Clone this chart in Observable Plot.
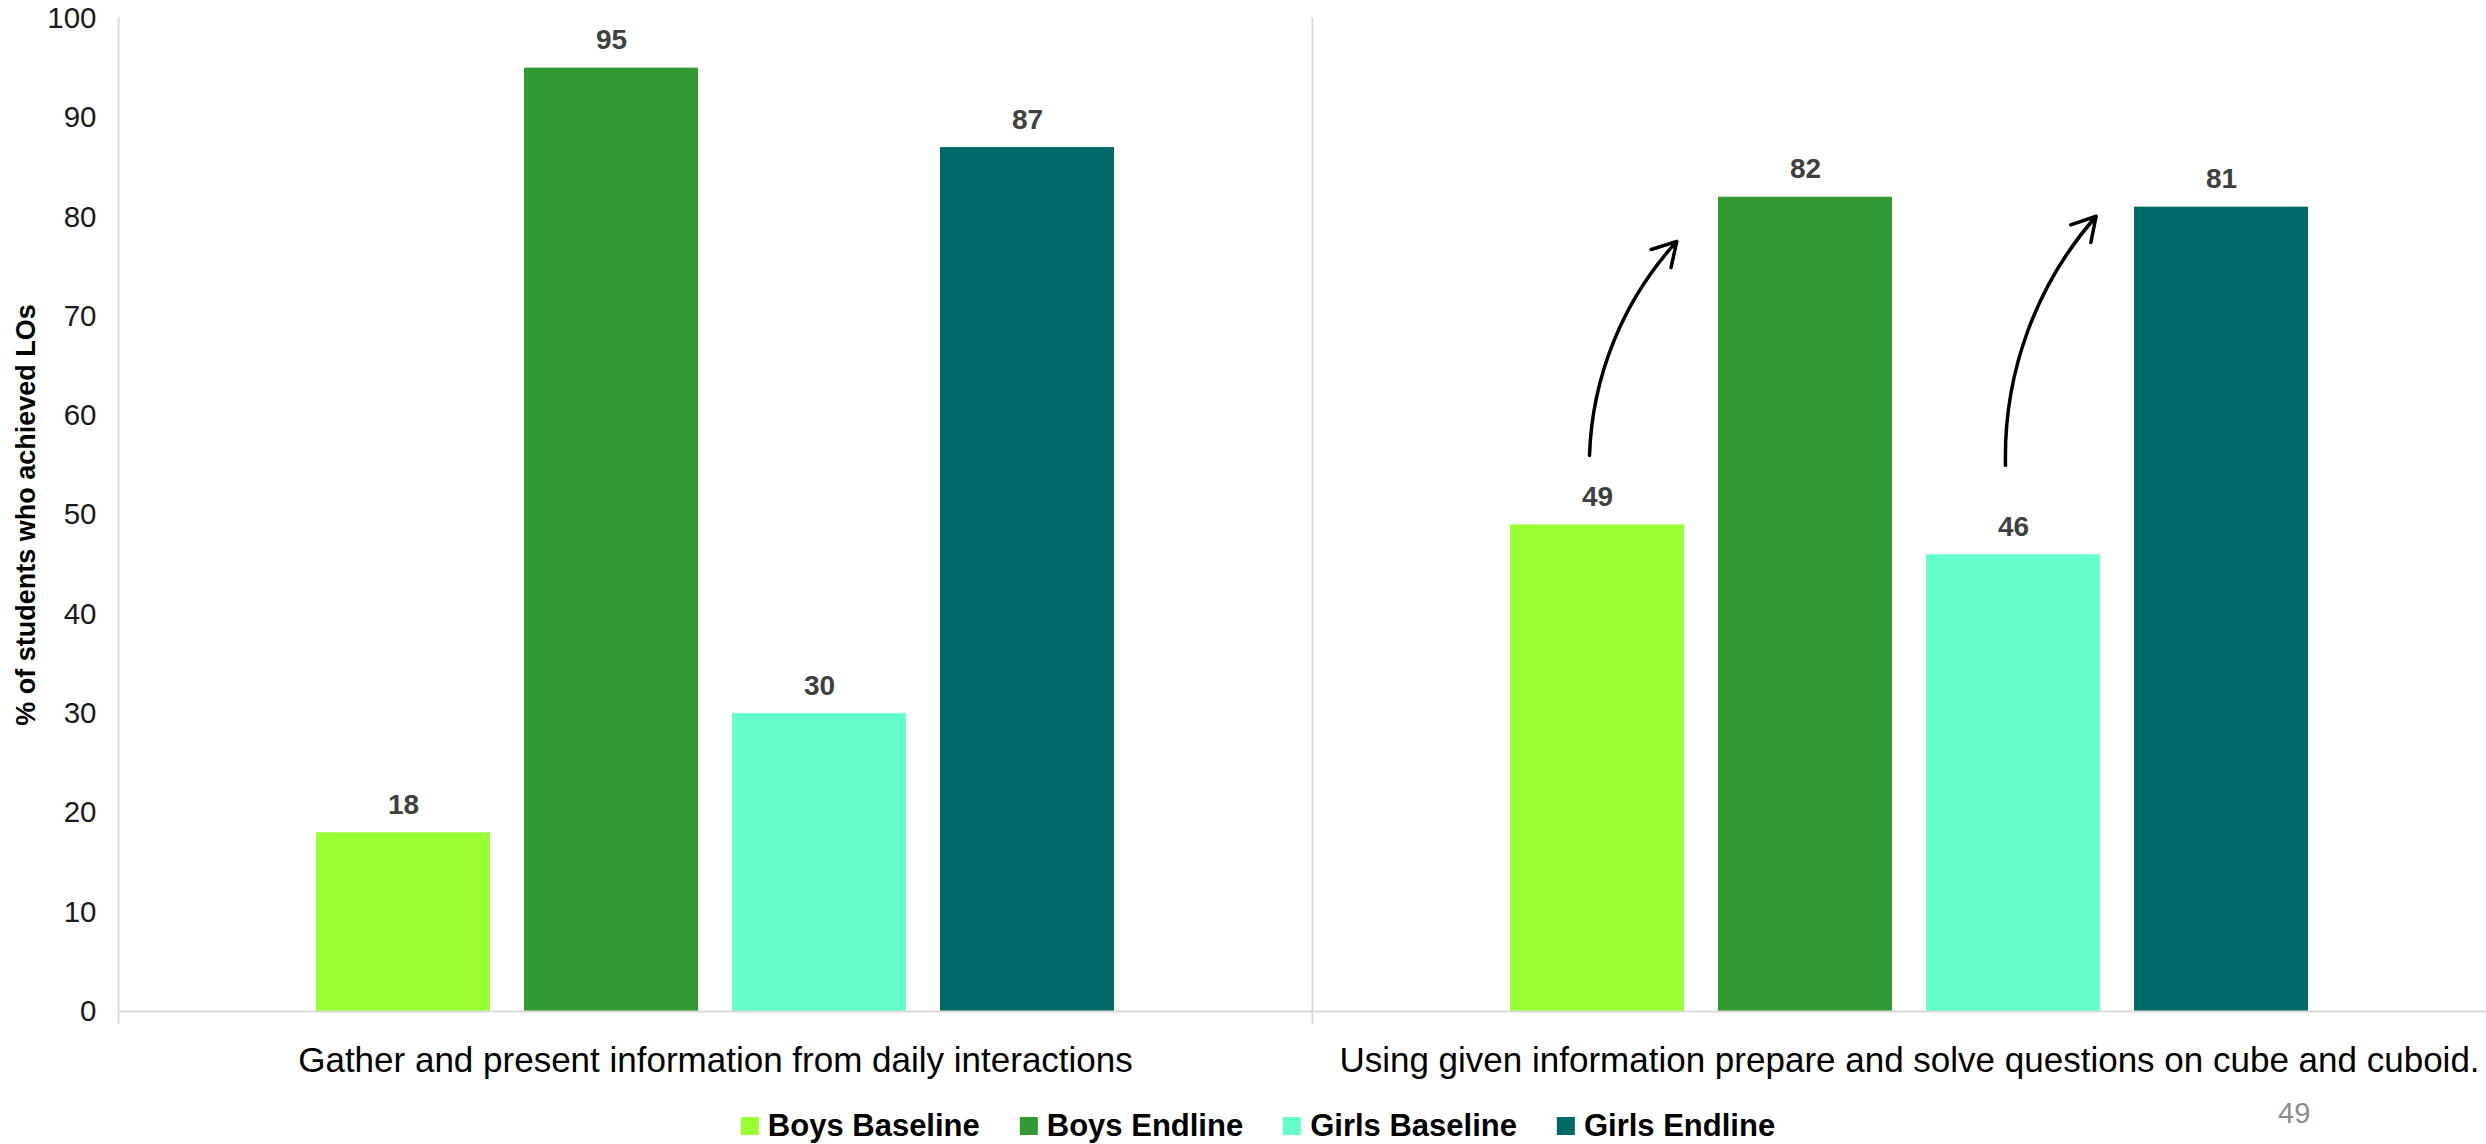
<!DOCTYPE html>
<html>
<head>
<meta charset="utf-8">
<script src="https://cdn.jsdelivr.net/npm/d3@7"></script>
<script src="https://cdn.jsdelivr.net/npm/@observablehq/plot@0.6"></script>
<style>
  html, body { margin: 0; padding: 0; background: white; }
  #page { position: relative; width: 2486px; height: 1144px; overflow: hidden; font-family: "Liberation Sans", Arial, Helvetica, sans-serif; }
  #chart svg { display: block; }
  #legend { position: absolute; top: 1108px; left: 1258px; transform: translateX(-50%); display: flex; align-items: center; gap: 40px; white-space: nowrap; font-weight: bold; font-size: 31px; line-height: 36px; color: #000; }
  #legend .item { display: flex; align-items: center; gap: 9px; }
  #legend .sw { width: 18px; height: 18px; display: inline-block; }
  #pageno { position: absolute; left: 2278px; top: 1098px; font-size: 29px; line-height: 30px; color: #8c8c8c; }
</style>
</head>
<body>
<div id="page">
  <div id="chart"></div>
  <div id="legend"></div>
  <div id="pageno">49</div>
</div>
<script>
// ---- data ----
const categories = [
  "Gather and present information from daily interactions",
  "Using given information prepare and solve questions on cube and cuboid."
];
const series = ["Boys Baseline", "Boys Endline", "Girls Baseline", "Girls Endline"];
const seriesColors = ["#99ff33", "#339933", "#66ffcc", "#006966"];
const gatherValues = [18, 95, 30, 87];
const cubeValues = [49, 82, 46, 81];
const yTicks = [0, 10, 20, 30, 40, 50, 60, 70, 80, 90, 100];
const yLabel = "% of students who achieved LOs";
// improvement arrows (second category): from baseline bar towards endline bar
const arrowFrom = ["Boys Baseline", "Girls Baseline"];
const arrowTo = ["Boys Endline", "Girls Endline"];
const arrowStart = [56, 55];
const arrowAim = [86, 89];

// ---- tables ----
const valuesByCategory = [gatherValues, cubeValues];
const data = [];
categories.forEach((c, ci) => series.forEach((s, si) => data.push({category: c, series: s, value: valuesByCategory[ci][si]})));
const arrows = arrowFrom.map((f, i) => ({category: categories[1], from: f, to: arrowTo[i], start: arrowStart[i], aim: arrowAim[i]}));

const chart = Plot.plot({
  width: 2486,
  height: 1095,
  marginLeft: 118,
  marginRight: -20,
  marginTop: 18,
  marginBottom: 84,
  style: {fontFamily: "'Liberation Sans', Arial, Helvetica, sans-serif", background: "white", overflow: "hidden"},
  fx: {domain: categories, padding: 0, label: null},
  x: {domain: series, paddingInner: 0.163, paddingOuter: 0.938, axis: null},
  y: {domain: [0, 100], label: null},
  color: {domain: series, range: seriesColors},
  marks: [
    Plot.frame({anchor: "left", stroke: "#d9d9d9", strokeWidth: 2, insetBottom: -11}),
    Plot.barY(data, {fx: "category", x: "series", y: "value", fill: "series"}),
    Plot.ruleY([0], {stroke: "#d9d9d9", strokeWidth: 2}),
    Plot.text(data, {fx: "category", x: "series", y: "value", text: d => String(d.value), dy: -28, fontWeight: "bold", fontSize: 28, fill: "#404040"}),
    Plot.arrow(arrows, {fx: "category", x1: "from", x2: "to", y1: "start", y2: "aim", bend: 33, insetEnd: 147, dx: -8, stroke: "black", strokeWidth: 3.5, headLength: 11.5}),
    Plot.axisY({ticks: yTicks, tickSize: 0, tickPadding: 22, fontSize: 29.5, fill: "#1a1a1a", label: null}),
    Plot.axisY({ticks: [], label: yLabel, labelAnchor: "center", labelArrow: "none", labelOffset: 103, fontSize: 27, fontWeight: "bold", fill: "#000"}),
    Plot.axisFx({anchor: "bottom", tickSize: 0, tickPadding: 36, fontSize: 35, fill: "#000", label: null, lineWidth: 200, textOverflow: null})
  ]
});
document.getElementById("chart").appendChild(chart);

// ---- legend ----
const legend = document.getElementById("legend");
series.forEach((s, i) => {
  const item = document.createElement("div");
  item.className = "item";
  const sw = document.createElement("span");
  sw.className = "sw";
  sw.style.background = seriesColors[i];
  const t = document.createElement("span");
  t.textContent = s;
  item.appendChild(sw);
  item.appendChild(t);
  legend.appendChild(item);
});
</script>
</body>
</html>
